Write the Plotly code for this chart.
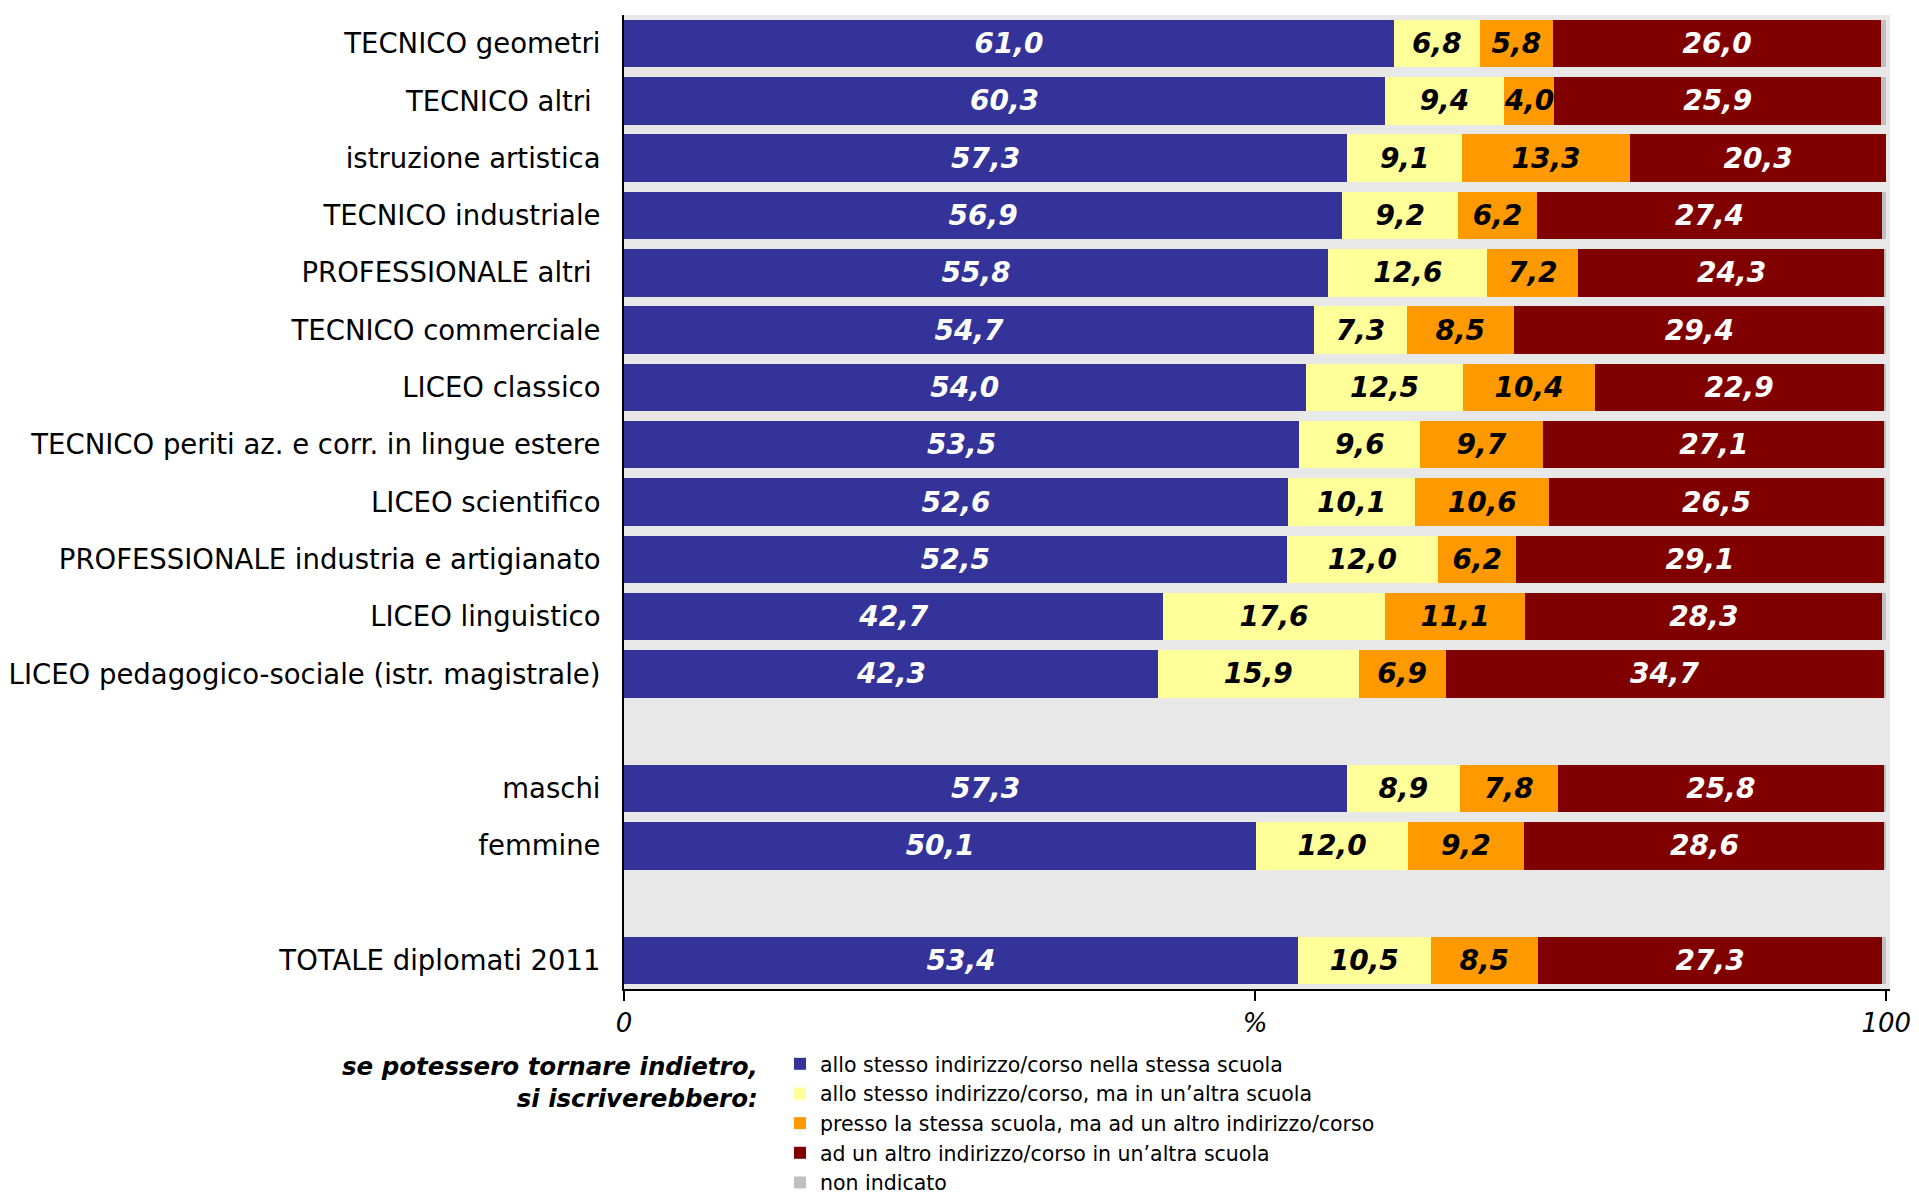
import plotly.graph_objects as go

categories = [
    "TECNICO geometri", "TECNICO altri ", "istruzione artistica", "TECNICO industriale",
    "PROFESSIONALE altri ", "TECNICO commerciale", "LICEO classico",
    "TECNICO periti az. e corr. in lingue estere", "LICEO scientifico",
    "PROFESSIONALE industria e artigianato", "LICEO linguistico",
    "LICEO pedagogico-sociale (istr. magistrale)", "maschi", "femmine",
    "TOTALE diplomati 2011",
]
stessa_scuola = [61.0, 60.3, 57.3, 56.9, 55.8, 54.7, 54.0, 53.5, 52.6, 52.5, 42.7, 42.3, 57.3, 50.1, 53.4]
altra_scuola = [6.8, 9.4, 9.1, 9.2, 12.6, 7.3, 12.5, 9.6, 10.1, 12.0, 17.6, 15.9, 8.9, 12.0, 10.5]
stessa_altro_ind = [5.8, 4.0, 13.3, 6.2, 7.2, 8.5, 10.4, 9.7, 10.6, 6.2, 11.1, 6.9, 7.8, 9.2, 8.5]
altro_ind_altra = [26.0, 25.9, 20.3, 27.4, 24.3, 29.4, 22.9, 27.1, 26.5, 29.1, 28.3, 34.7, 25.8, 28.6, 27.3]
non_indicato = [0.4, 0.4, 0.0, 0.3, 0.1, 0.1, 0.2, 0.1, 0.2, 0.2, 0.3, 0.2, 0.2, 0.1, 0.3]
series_names = [
    "allo stesso indirizzo/corso nella stessa scuola",
    "allo stesso indirizzo/corso, ma in un\u2019altra scuola",
    "presso la stessa scuola, ma ad un altro indirizzo/corso",
    "ad un altro indirizzo/corso in un\u2019altra scuola",
    "non indicato",
]
x_ticktext = ["0", "%", "100"]
x_tickvals = [0, 50, 100]

# group break rows (a blank slot after these indices)
group_ends = [11, 13]
positions = []
p = 0
for i in range(len(categories)):
    positions.append(p)
    p += 1
    if i in group_ends:
        p += 1

colors = ["#333399", "#FFFF99", "#FF9900", "#800000", "#C0C0C0"]
text_colors = ["white", "black", "black", "white", "black"]
all_series = [stessa_scuola, altra_scuola, stessa_altro_ind, altro_ind_altra, non_indicato]

FONT = "DejaVu Sans"
VAL_SIZE = 28
fig = go.Figure()
for k, (vals, name) in enumerate(zip(all_series, series_names)):
    fig.add_trace(go.Bar(
        y=positions, x=vals, orientation="h", name=name,
        marker=dict(color=colors[k], line=dict(width=0)),
        text=[f"{v:.1f}".replace(".", ",") for v in vals] if k < 4 else None,
        textposition="inside" if k < 4 else "none",
        insidetextanchor="middle",
        textfont=dict(family=FONT, size=VAL_SIZE, color=text_colors[k], weight="bold", style="italic"),
        hoverinfo="x+name",
    ))

W, H = 1919, 1195
L, R_px, T, B_px = 624, 1890, 15, 989
fig.update_layout(
    width=W, height=H,
    barmode="stack", bargap=0.17,
    margin=dict(l=L, r=W - R_px, t=T, b=H - B_px, autoexpand=False),
    plot_bgcolor="#E8E8E8", paper_bgcolor="white",
    font=dict(family=FONT, color="black"),
    uniformtext=dict(minsize=VAL_SIZE, mode="show"),
    separators=",.",
    xaxis=dict(
        range=[0, 100.3], tickvals=x_tickvals, ticktext=x_ticktext,
        showgrid=False, zeroline=False, showline=True, linecolor="black", linewidth=2,
        ticks="outside", ticklen=10, tickwidth=2, tickcolor="black",
        tickfont=dict(family=FONT, size=26, style="italic"),
    ),
    yaxis=dict(
        range=[positions[-1] + 0.5, -0.5],
        tickvals=positions, ticktext=categories,
        showgrid=False, zeroline=False, showline=True, linecolor="black", linewidth=2,
        ticks="", ticklabelstandoff=16,
        tickfont=dict(family=FONT, size=27.5),
    ),
    legend=dict(
        x=(780 - L) / (R_px - L), xanchor="left",
        y=-(1044 - B_px) / (B_px - T), yanchor="top",
        font=dict(family=FONT, size=20.5), traceorder="normal",
        itemwidth=30, tracegroupgap=0, bgcolor="rgba(0,0,0,0)",
    ),
    showlegend=True,
)
fig.add_annotation(
    xref="paper", yref="paper",
    x=(760 - L) / (R_px - L), xanchor="right",
    y=-(1050 - B_px) / (B_px - T), yanchor="top",
    text="<b><i>se potessero tornare indietro,<br>si iscriverebbero:</i></b>",
    showarrow=False, align="right",
    font=dict(family=FONT, size=24.5, color="black"),
)
fig.write_html(
    "out.html",
    config={"displayModeBar": False},
    post_script="document.body.style.margin='0';document.body.style.overflow='hidden';",
)
